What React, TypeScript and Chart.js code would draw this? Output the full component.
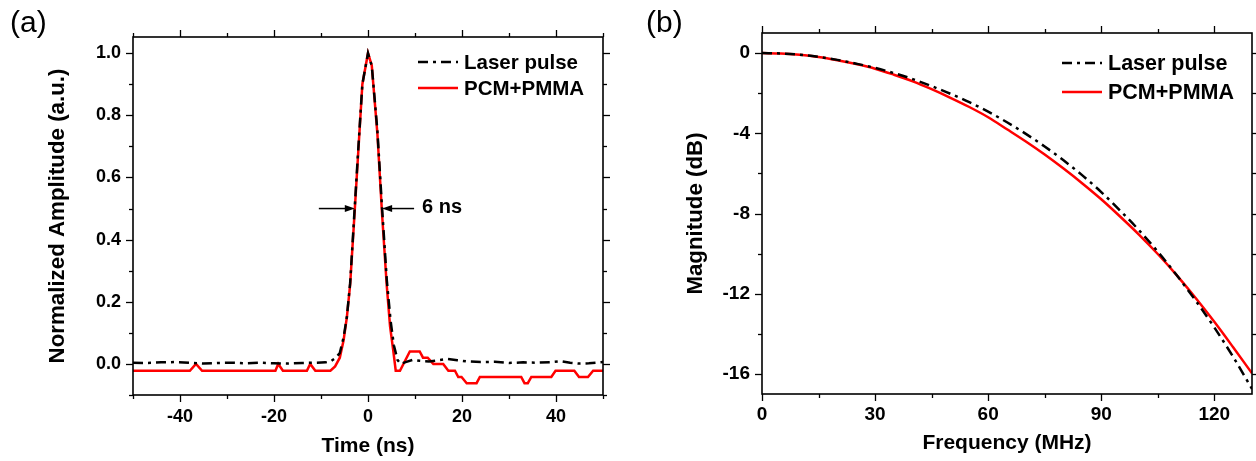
import React, { useEffect, useRef } from "react";
import { Chart, registerables } from "chart.js";

Chart.register(...registerables);

// ---------- data ----------
const SERIES_NAMES = ["Laser pulse", "PCM+PMMA"];

// panel (a): time-domain pulses
const TIME_LASER = [-50, -47, -44, -41, -38, -35, -32, -29, -26, -23, -20, -17, -14, -11, -9, -8, -7, -6, -5.2, -4.5, -3.8, -3.0, -2.2, -1.2, 0, 0.8, 2.0, 3.0, 4.0, 4.8, 5.5, 6.3, 7.0, 8.0, 9.5, 11, 13, 15, 17, 19, 21, 24, 27, 30, 33, 36, 39, 41, 43, 45, 47, 50];
const AMP_LASER = [0.004, 0.003, 0.005, 0.006, 0.004, 0.001, 0.003, 0.004, 0.002, 0.004, 0.002, 0.001, 0.003, 0.004, 0.005, 0.008, 0.018, 0.035, 0.085, 0.15, 0.26, 0.46, 0.66, 0.9, 1.0, 0.96, 0.75, 0.5, 0.27, 0.14, 0.06, 0.012, 0.0, 0.006, 0.013, 0.01, 0.008, 0.012, 0.016, 0.012, 0.008, 0.006, 0.007, 0.003, 0.005, 0.004, 0.006, 0.009, 0.004, 0.001, 0.002, 0.006];
const TIME_PCM = [-50, -37.9, -36.6, -35.3, -19.7, -19.1, -18.1, -13.0, -12.3, -11.2, -8.0, -7.0, -6.0, -5.2, -4.5, -3.8, -3.0, -2.2, -1.2, 0, 0.8, 2.0, 3.0, 4.0, 4.7, 5.4, 5.9, 6.8, 8.9, 11.0, 11.7, 12.7, 13.9, 16.0, 17.1, 18.5, 19.2, 19.9, 21.0, 23.1, 23.8, 32.6, 33.3, 34.0, 34.75, 39.0, 39.9, 43.9, 44.9, 46.8, 47.9, 50];
const AMP_PCM = [-0.022, -0.022, 0.0, -0.022, -0.022, 0.0, -0.022, -0.022, 0.0, -0.022, -0.022, -0.008, 0.02, 0.075, 0.15, 0.255, 0.45, 0.65, 0.9, 1.0, 0.96, 0.74, 0.48, 0.25, 0.12, 0.04, -0.022, -0.022, 0.04, 0.04, 0.02, 0.02, 0.0, 0.0, -0.022, -0.022, -0.042, -0.042, -0.062, -0.062, -0.042, -0.042, -0.062, -0.062, -0.042, -0.042, -0.022, -0.022, -0.042, -0.042, -0.022, -0.022];

const TIME_TICKS = [-40, -20, 0, 20, 40];
const TIME_MINOR = [-50, -30, -10, 10, 30, 50];
const AMP_TICKS = [0, 0.2, 0.4, 0.6, 0.8, 1.0];
const AMP_MINOR = [-0.1, 0.1, 0.3, 0.5, 0.7, 0.9];
const FWHM_EDGES = [-2.8, 3.0];
const FWHM_LABEL = "6 ns";

// panel (b): frequency response
const FREQ = [0, 5, 10, 15, 20, 25, 30, 35, 40, 45, 50, 55, 60, 65, 70, 75, 80, 85, 90, 95, 100, 105, 110, 115, 120, 125, 130];
const MAG_LASER = [0, -0.02, -0.08, -0.19, -0.34, -0.53, -0.74, -1.0, -1.3, -1.65, -2.03, -2.45, -2.92, -3.45, -4.03, -4.66, -5.35, -6.1, -6.93, -7.85, -8.83, -9.9, -11.07, -12.33, -13.68, -15.15, -16.75];
const MAG_PCM = [0, -0.02, -0.09, -0.2, -0.36, -0.55, -0.78, -1.08, -1.41, -1.8, -2.23, -2.69, -3.2, -3.8, -4.41, -5.06, -5.76, -6.5, -7.29, -8.15, -9.05, -10.02, -11.07, -12.2, -13.4, -14.67, -15.97];

const FREQ_TICKS = [0, 30, 60, 90, 120];
const FREQ_MINOR = [15, 45, 75, 105];
const MAG_TICKS = [0, -4, -8, -12, -16];
const MAG_MINOR = [-2, -6, -10, -14];

// ---------- styling ----------
const FONT = "'Liberation Sans', Arial, Helvetica, sans-serif";
const BLACK = "#000000";
const RED = "#ff0000";
const DASH_DOT = [10, 5, 3, 5];

const decorPlugin = {
  id: "decor",
  afterDatasetsDraw(chart: any, _args: any, opts: any) {
    const { ctx, chartArea } = chart;
    const { left, right, top, bottom } = chartArea;
    const xs = chart.scales.x;
    const ys = chart.scales.y;
    ctx.save();
    ctx.strokeStyle = BLACK;
    ctx.lineWidth = 1.6;
    ctx.setLineDash([]);
    ctx.strokeRect(left, top, right - left, bottom - top);
    const seg = (x1: number, y1: number, x2: number, y2: number) => {
      ctx.beginPath();
      ctx.moveTo(x1, y1);
      ctx.lineTo(x2, y2);
      ctx.stroke();
    };
    ctx.lineWidth = 1.3;
    const drawX = (vals: number[], len: number) => {
      vals.forEach((v) => {
        const p = Math.round(xs.getPixelForValue(v)) + 0.5;
        seg(p, bottom, p, bottom + len);
        seg(p, top, p, top - len);
      });
    };
    const drawY = (vals: number[], len: number) => {
      vals.forEach((v) => {
        const p = Math.round(ys.getPixelForValue(v)) + 0.5;
        seg(left, p, left - len, p);
        seg(right, p, right + len, p);
      });
    };
    drawX(opts.xMajor, 7);
    drawX(opts.xMinor, 4);
    drawY(opts.yMajor, 7);
    drawY(opts.yMinor, 4);

    // legend
    const lg = opts.legend;
    ctx.font = `bold ${lg.size}px ${FONT}`;
    ctx.textBaseline = "middle";
    ctx.textAlign = "left";
    ctx.fillStyle = BLACK;
    chart.data.datasets.forEach((ds: any, i: number) => {
      const y = lg.rows[i];
      ctx.strokeStyle = ds.borderColor;
      ctx.lineWidth = ds.borderWidth;
      ctx.setLineDash(ds.borderDash || []);
      seg(lg.x1, y, lg.x2, y);
      ctx.setLineDash([]);
      ctx.fillText(ds.label, lg.textX, y + 1);
    });

    // FWHM annotation
    if (opts.fwhm) {
      const f = opts.fwhm;
      const yPix = ys.getPixelForValue(f.level);
      const lTip = xs.getPixelForValue(f.edges[0]);
      const rTip = xs.getPixelForValue(f.edges[1]);
      ctx.strokeStyle = BLACK;
      ctx.fillStyle = BLACK;
      ctx.lineWidth = 1.5;
      const arrow = (tail: number, tip: number) => {
        const dir = Math.sign(tip - tail);
        seg(tail, yPix, tip - dir * 8, yPix);
        ctx.beginPath();
        ctx.moveTo(tip, yPix);
        ctx.lineTo(tip - dir * 10, yPix - 3.5);
        ctx.lineTo(tip - dir * 10, yPix + 3.5);
        ctx.closePath();
        ctx.fill();
      };
      arrow(lTip - 36, lTip);
      arrow(rTip + 32, rTip);
      ctx.font = `bold ${f.size}px ${FONT}`;
      ctx.textAlign = "left";
      ctx.textBaseline = "middle";
      ctx.fillText(f.text, rTip + 40, yPix - 1);
    }
    ctx.restore();
  },
};

function makeScales(cfg: any) {
  const tickFont = { family: FONT, size: cfg.tickSize, weight: "bold" as const };
  const xTitleFont = { family: FONT, size: cfg.xTitleSize, weight: "bold" as const };
  const yTitleFont = { family: FONT, size: cfg.yTitleSize, weight: "bold" as const };
  return {
    x: {
      type: "linear",
      min: cfg.xMin,
      max: cfg.xMax,
      afterBuildTicks: (s: any) => {
        s.ticks = cfg.xTicks.map((v: number) => ({ value: v }));
      },
      afterFit: (s: any) => {
        s.height = cfg.xHeight;
      },
      grid: { display: false, drawTicks: false },
      border: { display: false },
      ticks: { padding: cfg.xPad, color: BLACK, font: tickFont, maxRotation: 0, autoSkip: false },
      title: { display: true, text: cfg.xTitle, color: BLACK, font: xTitleFont, padding: { top: 0, bottom: cfg.xTitlePad } },
    },
    y: {
      type: "linear",
      min: cfg.yMin,
      max: cfg.yMax,
      afterBuildTicks: (s: any) => {
        s.ticks = cfg.yTicks.map((v: number) => ({ value: v }));
      },
      afterFit: (s: any) => {
        s.width = cfg.yWidth;
      },
      grid: { display: false, drawTicks: false },
      border: { display: false },
      ticks: { padding: cfg.yPad, color: BLACK, font: tickFont, autoSkip: false, callback: cfg.yFormat },
      title: { display: true, text: cfg.yTitle, color: BLACK, font: yTitleFont, padding: { top: cfg.yTitlePad, bottom: 0 } },
    },
  };
}

function PanelA() {
  const ref = useRef<HTMLCanvasElement>(null);
  useEffect(() => {
    const chart = new Chart(ref.current as HTMLCanvasElement, {
      type: "line",
      data: {
        datasets: [
          {
            label: SERIES_NAMES[0],
            data: TIME_LASER.map((t, i) => ({ x: t, y: AMP_LASER[i] })),
            borderColor: BLACK,
            borderWidth: 2.5,
            borderDash: DASH_DOT,
            pointRadius: 0,
            fill: false,
          },
          {
            label: SERIES_NAMES[1],
            data: TIME_PCM.map((t, i) => ({ x: t, y: AMP_PCM[i] })),
            borderColor: RED,
            borderWidth: 2.5,
            pointRadius: 0,
            fill: false,
          },
        ],
      },
      options: {
        responsive: false,
        animation: false,
        events: [],
        layout: { padding: { top: 37, right: 17, left: 0, bottom: 0 } },
        plugins: {
          legend: { display: false },
          tooltip: { enabled: false },
          decor: {
            xMajor: TIME_TICKS,
            xMinor: TIME_MINOR,
            yMajor: AMP_TICKS,
            yMinor: AMP_MINOR,
            legend: { x1: 418, x2: 458, textX: 464, rows: [62, 88], size: 20.5 },
            fwhm: { level: 0.5, edges: FWHM_EDGES, text: FWHM_LABEL, size: 20 },
          },
        } as any,
        scales: makeScales({
          xMin: -50,
          xMax: 50,
          xTicks: TIME_TICKS,
          xHeight: 66,
          xPad: 11,
          xTitle: "Time (ns)",
          xTitlePad: 2,
          xTitleSize: 21,
          yMin: -0.1,
          yMax: 1.052,
          yTicks: AMP_TICKS,
          yWidth: 133,
          yPad: 12,
          yTitle: "Normalized Amplitude (a.u.)",
          yTitlePad: 44,
          yTitleSize: 22.3,
          yFormat: (v: any) => Number(v).toFixed(1),
          tickSize: 18,
        }) as any,
      },
      plugins: [decorPlugin as any],
    });
    return () => chart.destroy();
  }, []);
  return <canvas ref={ref} width={620} height={461} style={{ position: "absolute", left: 0, top: 0, display: "block" }} />;
}

function PanelB() {
  const ref = useRef<HTMLCanvasElement>(null);
  useEffect(() => {
    const chart = new Chart(ref.current as HTMLCanvasElement, {
      type: "line",
      data: {
        datasets: [
          {
            label: SERIES_NAMES[0],
            data: FREQ.map((f, i) => ({ x: f, y: MAG_LASER[i] })),
            borderColor: BLACK,
            borderWidth: 2.5,
            borderDash: DASH_DOT,
            pointRadius: 0,
            cubicInterpolationMode: "monotone",
            fill: false,
          },
          {
            label: SERIES_NAMES[1],
            data: FREQ.map((f, i) => ({ x: f, y: MAG_PCM[i] })),
            borderColor: RED,
            borderWidth: 2.5,
            pointRadius: 0,
            cubicInterpolationMode: "monotone",
            fill: false,
          },
        ],
      },
      options: {
        responsive: false,
        animation: false,
        events: [],
        layout: { padding: { top: 33, right: 4, left: 0, bottom: 0 } },
        plugins: {
          legend: { display: false },
          tooltip: { enabled: false },
          decor: {
            xMajor: FREQ_TICKS,
            xMinor: FREQ_MINOR,
            yMajor: MAG_TICKS,
            yMinor: MAG_MINOR,
            legend: { x1: 442, x2: 482, textX: 488, rows: [63, 92], size: 21.5 },
          },
        } as any,
        scales: makeScales({
          xMin: 0,
          xMax: 130,
          xTicks: FREQ_TICKS,
          xHeight: 67,
          xPad: 9,
          xTitle: "Frequency (MHz)",
          xTitlePad: 5,
          xTitleSize: 21,
          yMin: -17,
          yMax: 1,
          yTicks: MAG_TICKS,
          yWidth: 142,
          yPad: 12,
          yTitle: "Magnitude (dB)",
          yTitlePad: 62,
          yTitleSize: 22.3,
          yFormat: (v: any) => String(v),
          tickSize: 19,
        }) as any,
      },
      plugins: [decorPlugin as any],
    });
    return () => chart.destroy();
  }, []);
  return <canvas ref={ref} width={636} height={461} style={{ position: "absolute", left: 620, top: 0, display: "block" }} />;
}

const labelStyle: React.CSSProperties = {
  position: "absolute",
  top: 7,
  fontFamily: FONT,
  fontSize: 30,
  lineHeight: "30px",
  color: BLACK,
};

export default function App() {
  return (
    <div
      style={{
        position: "absolute",
        left: 0,
        top: 0,
        width: 1256,
        height: 461,
        overflow: "hidden",
        background: "#ffffff",
      }}
    >
      <PanelA />
      <PanelB />
      <div style={{ ...labelStyle, left: 10 }}>(a)</div>
      <div style={{ ...labelStyle, left: 646 }}>(b)</div>
    </div>
  );
}
